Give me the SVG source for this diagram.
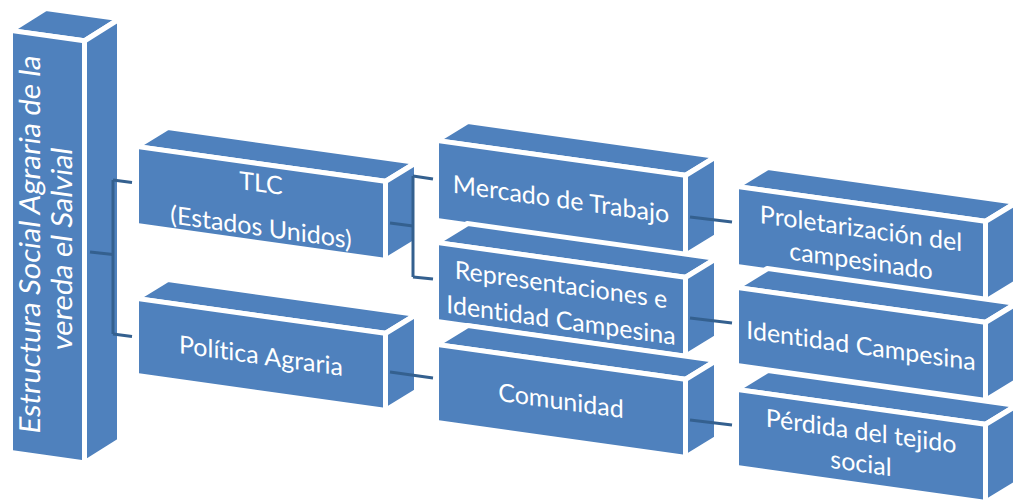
<svg xmlns="http://www.w3.org/2000/svg" width="1013" height="500" viewBox="0 0 1013 500">
<style>
.f{fill:#4F81BD;stroke:#FFFFFF;stroke-width:5;stroke-linejoin:round}
.t{fill:#FFFFFF;font-family:Lato,"Open Sans",sans-serif;font-size:25px;text-anchor:middle;font-variant-ligatures:none}
.rt{fill:#FFFFFF;font-family:Lato,"Open Sans",sans-serif;font-size:29px;text-anchor:middle;font-variant-ligatures:none}
.c{fill:none;stroke:#34608F;stroke-width:3;stroke-linecap:butt}
</style>
<rect width="1013" height="500" fill="#FFFFFF"/>
<g id="root" transform="translate(10.5,30.5) skewY(7.97)">
<polygon class="f" points="0,0 74,0 109,-26.9 35,-26.9"/>
<polygon class="f" points="74,0 109,-26.9 109,395.1 74,422"/>
<rect class="f" x="0" y="0" width="74" height="422"/>
<text class="rt" transform="translate(29.5,211) rotate(-90)">Estructura Social Agraria de la</text>
<text class="rt" transform="translate(61.5,211) rotate(-90)">vereda el Salvial</text>
</g>
<g id="tlc" transform="translate(136.5,146.5) skewY(7.97)">
<polygon class="f" points="0,0 249,0 280,-23.3 31,-23.3"/>
<polygon class="f" points="249,0 280,-23.3 280,55.7 249,79"/>
<rect class="f" x="0" y="0" width="249" height="79"/>
<text class="t" x="124.5" y="28">TLC</text>
<text class="t" x="124.5" y="72">(Estados Unidos)</text>
</g>
<g id="politica" transform="translate(136.5,298.5) skewY(7.97)">
<polygon class="f" points="0,0 249,0 280,-23.3 31,-23.3"/>
<polygon class="f" points="249,0 280,-23.3 280,53.7 249,77"/>
<rect class="f" x="0" y="0" width="249" height="77"/>
<text class="t" x="124.5" y="48.5">Política Agraria</text>
</g>
<g id="mercado" transform="translate(436.5,140.5) skewY(7.97)">
<polygon class="f" points="0,0 249,0 280,-23.3 31,-23.3"/>
<polygon class="f" points="249,0 280,-23.3 280,56.7 249,80"/>
<rect class="f" x="0" y="0" width="249" height="80"/>
<text class="t" x="124.5" y="50">Mercado de Trabajo</text>
</g>
<g id="representaciones" transform="translate(436.5,242.5) skewY(7.97)">
<polygon class="f" points="0,0 249,0 280,-23.3 31,-23.3"/>
<polygon class="f" points="249,0 280,-23.3 280,55.7 249,79"/>
<rect class="f" x="0" y="0" width="249" height="79"/>
<text class="t" x="124.5" y="33.5">Representaciones e</text>
<text class="t" x="124.5" y="69">Identidad Campesina</text>
</g>
<g id="comunidad" transform="translate(436.5,344.5) skewY(7.97)">
<polygon class="f" points="0,0 249,0 280,-23.3 31,-23.3"/>
<polygon class="f" points="249,0 280,-23.3 280,54.7 249,78"/>
<rect class="f" x="0" y="0" width="249" height="78"/>
<text class="t" x="124.5" y="47.6">Comunidad</text>
</g>
<g id="proletarizacion" transform="translate(736.5,186.5) skewY(7.97)">
<polygon class="f" points="0,0 249,0 280,-23.3 31,-23.3"/>
<polygon class="f" points="249,0 280,-23.3 280,56.7 249,80"/>
<rect class="f" x="0" y="0" width="249" height="80"/>
<text class="t" x="124.5" y="33.3">Proletarización del</text>
<text class="t" x="124.5" y="65.7">campesinado</text>
</g>
<g id="identidad" transform="translate(736.5,287.5) skewY(7.97)">
<polygon class="f" points="0,0 249,0 280,-23.3 31,-23.3"/>
<polygon class="f" points="249,0 280,-23.3 280,54.7 249,78"/>
<rect class="f" x="0" y="0" width="249" height="78"/>
<text class="t" x="124.5" y="49.6">Identidad Campesina</text>
</g>
<g id="perdida" transform="translate(736.5,389.5) skewY(7.97)">
<polygon class="f" points="0,0 249,0 280,-23.3 31,-23.3"/>
<polygon class="f" points="249,0 280,-23.3 280,54.7 249,78"/>
<rect class="f" x="0" y="0" width="249" height="78"/>
<text class="t" x="124.5" y="33">Pérdida del tejido</text>
<text class="t" x="124.5" y="65">social</text>
</g>
<g id="connectors">
<path class="c" d="M90,252 L113,254.5"/>
<path class="c" d="M113,180 V334"/>
<path class="c" d="M113,180 L132,182.5"/>
<path class="c" d="M113,334 L132,336.5"/>
<path class="c" d="M390,223 L413,226"/>
<path class="c" d="M413,176 V277"/>
<path class="c" d="M413,176 L433,179"/>
<path class="c" d="M413,277 L433,279"/>
<path class="c" d="M390,372 L433,378"/>
<path class="c" d="M690,217 L732,222"/>
<path class="c" d="M690,318 L732,323"/>
<path class="c" d="M690,420 L732,425"/>
</g>
</svg>
